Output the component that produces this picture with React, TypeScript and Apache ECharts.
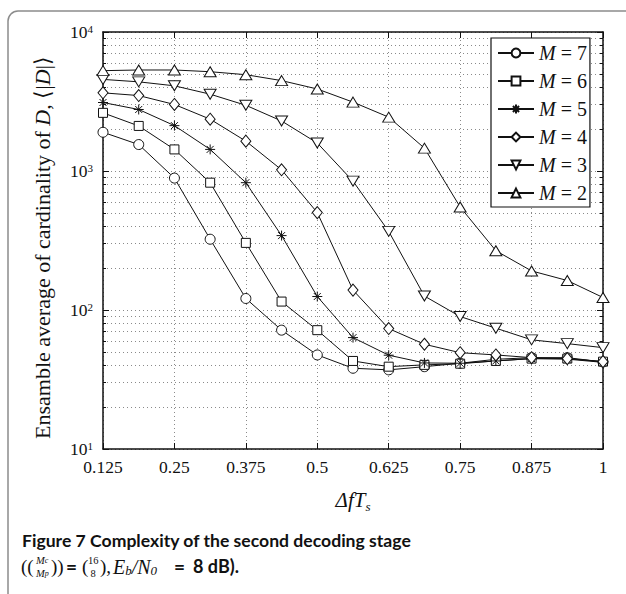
import React, { useEffect, useRef } from 'react';
import * as echarts from 'echarts';

const xValues = [0.125, 0.1875, 0.25, 0.3125, 0.375, 0.4375, 0.5, 0.5625, 0.625, 0.6875, 0.75, 0.8125, 0.875, 0.9375, 1];
const seriesNames = ['M = 7', 'M = 6', 'M = 5', 'M = 4', 'M = 3', 'M = 2'];
const m7 = [1900, 1550, 889, 323, 121, 71.6, 47.5, 38.1, 37.1, 39.1, 41.4, 44.2, 45.4, 45.4, 42.3];
const m6 = [2620, 2110, 1430, 824, 304, 115, 71.6, 43, 39.1, 40.3, 41.1, 43, 44.7, 44.7, 42.5];
const m5 = [3110, 2770, 2120, 1430, 824, 343, 125, 63.3, 47.3, 41.6, 41.4, 43, 44.7, 44.3, 42];
const m4 = [3650, 3490, 3010, 2360, 1640, 1020, 502, 139, 73.5, 56.7, 49.3, 47.5, 45.4, 44.7, 42.5];
const m3 = [4560, 4380, 4100, 3570, 2970, 2290, 1590, 845, 368, 126, 89.7, 74, 61, 57.3, 53.6];
const m2 = [5270, 5330, 5330, 5180, 4930, 4470, 3890, 3130, 2440, 1460, 551, 267, 191, 163, 123];
const xTickInterval = 0.125;
const yRange = [10, 10000];

const STAR = 'path://M5,0L5,10M0,5L10,5M1.5,1.5L8.5,8.5M1.5,8.5L8.5,1.5';
const SERIF = '"Liberation Serif", "Times New Roman", serif';
const SANS = 'Lato, "Open Sans", sans-serif';
const INK = '#111';

function txt(x: number, y: number, text: string, fontSize: number, extra: any = {}) {
  return {
    type: 'text',
    x,
    y,
    silent: true,
    style: { text, fontFamily: SERIF, fontSize, fill: INK, ...extra },
  };
}

export default function App() {
  const ref = useRef<HTMLDivElement>(null);
  useEffect(() => {
    if (!ref.current) return;
    const chart = echarts.init(ref.current, undefined, { renderer: 'svg' });
    const allData = [m7, m6, m5, m4, m3, m2];
    const symbols: any[] = [
      { symbol: 'circle', size: 10, rotate: 0 },
      { symbol: 'rect', size: 9, rotate: 0 },
      { symbol: STAR, size: 10, rotate: 0 },
      { symbol: 'diamond', size: [10, 12], rotate: 0 },
      { symbol: 'triangle', size: [12, 10], rotate: 180 },
      { symbol: 'triangle', size: [12, 10], rotate: 0 },
    ];
    const series = allData.map((d, i) => ({
      name: seriesNames[i],
      type: 'line',
      xAxisIndex: 0,
      yAxisIndex: 0,
      data: d.map((v, j) => [xValues[j], v]),
      symbol: symbols[i].symbol,
      symbolSize: symbols[i].size,
      symbolRotate: symbols[i].rotate,
      showAllSymbol: true,
      lineStyle: { color: INK, width: 1 },
      itemStyle: { color: '#fff', borderColor: INK, borderWidth: 1 },
      emphasis: { disabled: true },
      z: 3,
    }));
    const axisLine = { show: true, onZero: false, lineStyle: { color: INK, width: 1.5 } };
    const tickInside = { show: true, inside: true, length: 6, lineStyle: { color: INK, width: 1 } };
    const dotted = { show: true, lineStyle: { color: '#8a8a8a', type: [1, 3], width: 1 } };
    const capSmall = { fontFamily: SERIF, fontSize: 11, fontStyle: 'italic' };
    chart.setOption({
      animation: false,
      grid: { left: 103, right: 23, top: 32, bottom: 145, containLabel: false },
      legend: {
        data: seriesNames,
        orient: 'vertical',
        left: 491,
        top: 38,
        itemWidth: 36,
        itemHeight: 11,
        itemGap: 8,
        padding: [5, 3, 4, 6],
        backgroundColor: '#fff',
        borderColor: INK,
        borderWidth: 1.2,
        borderRadius: 0,
        formatter: (name: string) => `{i|M} = ${name.split('= ')[1]}`,
        textStyle: {
          fontFamily: SERIF,
          fontSize: 20,
          color: INK,
          lineHeight: 20,
          rich: { i: { fontFamily: SERIF, fontSize: 20, fontStyle: 'italic', color: INK } },
        },
      },
      xAxis: [
        {
          type: 'value',
          min: xTickInterval,
          max: 1,
          interval: xTickInterval,
          axisLine,
          axisTick: tickInside,
          splitLine: dotted,
          axisLabel: { fontFamily: SERIF, fontSize: 17.5, color: INK, margin: 9 },
          name: '{i|ΔfT}{sub|s}',
          nameLocation: 'middle',
          nameGap: 37,
          nameTextStyle: {
            fontFamily: SERIF,
            fontSize: 21,
            color: INK,
            rich: {
              i: { fontFamily: SERIF, fontSize: 21, fontStyle: 'italic', color: INK },
              sub: { fontFamily: SERIF, fontSize: 13, fontStyle: 'italic', color: INK, padding: [14, 0, 0, 0] },
            },
          },
        },
        {
          type: 'value',
          position: 'top',
          min: xTickInterval,
          max: 1,
          interval: xTickInterval,
          axisLine,
          axisTick: tickInside,
          axisLabel: { show: false },
          splitLine: { show: false },
        },
      ],
      yAxis: [
        {
          type: 'log',
          logBase: 10,
          min: yRange[0],
          max: yRange[1],
          axisLine,
          axisTick: tickInside,
          minorTick: { show: true, splitNumber: 9, length: 3, lineStyle: { color: INK } },
          splitLine: dotted,
          minorSplitLine: dotted,
          axisLabel: {
            fontFamily: SERIF,
            fontSize: 17.5,
            color: INK,
            margin: 10,
            formatter: (v: number) => `10{sup|${Math.round(Math.log10(v))}}`,
            rich: { sup: { fontFamily: SERIF, fontSize: 11, color: INK, verticalAlign: 'top' } },
          },
          name: 'Ensamble average of cardinality of {i|D}, ⟨|{i|D}|⟩',
          nameLocation: 'middle',
          nameGap: 50,
          nameTextStyle: {
            fontFamily: SERIF,
            fontSize: 22,
            color: INK,
            padding: [0, 14, 0, 0],
            rich: { i: { fontFamily: SERIF, fontSize: 22, fontStyle: 'italic', color: INK } },
          },
        },
        {
          type: 'log',
          logBase: 10,
          position: 'right',
          min: yRange[0],
          max: yRange[1],
          axisLine,
          axisTick: tickInside,
          minorTick: { show: true, splitNumber: 9, length: 3, lineStyle: { color: INK } },
          axisLabel: { show: false },
          splitLine: { show: false },
        },
      ],
      series,
      graphic: [
        {
          type: 'rect',
          shape: { x: 8, y: 11, width: 800, height: 800, r: [10, 0, 0, 0] },
          style: { fill: 'none', stroke: '#8c8c8c', lineWidth: 1.5 },
          silent: true,
        },
        txt(22, 531, 'Figure 7 Complexity of the second decoding stage', 17.6, { fontFamily: SANS, fontWeight: 'bold' }),
        txt(21, 557, '((', 19),
        txt(36, 555, '{i|M}{s|c}', 10.5, { rich: { i: { ...capSmall, fontSize: 10.5 }, s: { ...capSmall, fontSize: 8 } } }),
        txt(36, 568, '{i|M}{s|p}', 10.5, { rich: { i: { ...capSmall, fontSize: 10.5 }, s: { ...capSmall, fontSize: 8 } } }),
        txt(51, 557, '))', 19),
        txt(66, 557, '=', 19, { fontFamily: SANS, fontWeight: 'bold' }),
        txt(82, 557, '(', 19),
        txt(88, 555, '16', 10.5),
        txt(90.5, 568, '8', 10.5),
        txt(100, 557, '),', 19),
        txt(113, 557, '{i|E}{s|b}{i|/N}{s|0}', 20, {
          rich: {
            i: { fontFamily: SERIF, fontSize: 20, fontStyle: 'italic' },
            s: { fontFamily: SERIF, fontSize: 13, fontStyle: 'italic', verticalAlign: 'bottom' },
          },
        }),
        txt(174, 557, '=', 19, { fontFamily: SANS, fontWeight: 'bold' }),
        txt(193, 557, '8 dB).', 18, { fontFamily: SANS, fontWeight: 'bold' }),
      ],
    });
    return () => chart.dispose();
  }, []);
  return <div ref={ref} style={{ position: 'fixed', left: 0, top: 0, width: 626, height: 594, background: '#fff' }} />;
}
